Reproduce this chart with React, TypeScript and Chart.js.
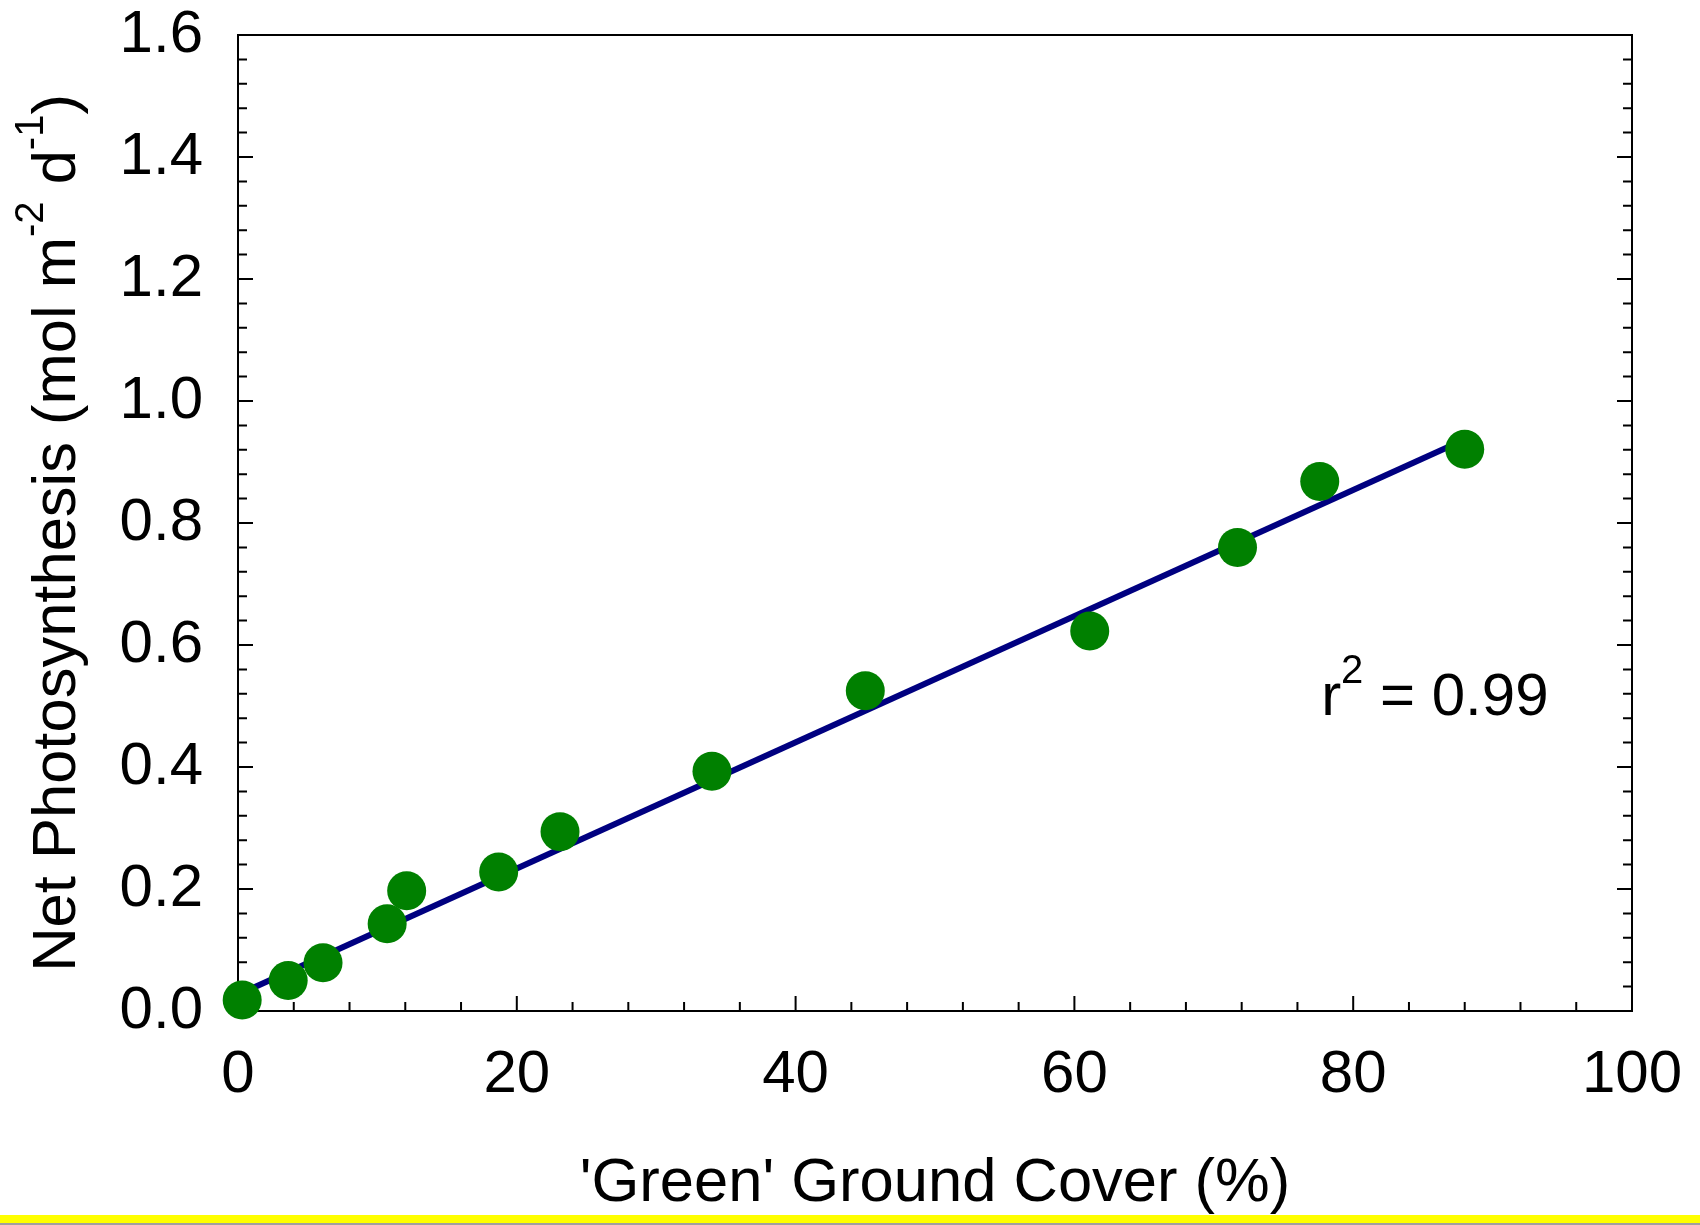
import React, { useEffect, useRef } from "react";
import { Chart, registerables } from "chart.js";

Chart.register(...registerables);

// Data
const coverPct = [0.3, 3.6, 6.1, 10.7, 12.1, 18.7, 23.1, 34.0, 45.0, 61.1, 71.7, 77.6, 88.0];
const netPhoto = [0.018, 0.05, 0.079, 0.143, 0.197, 0.228, 0.294, 0.393, 0.525, 0.623, 0.76, 0.868, 0.921];
const fitX = [0.3, 88.0];
const fitY = [0.03, 0.937];

const xMin = 0;
const xMax = 100;
const xStep = 20;
const xMinorStep = 4;
const yMin = 0;
const yMax = 1.6;
const yStep = 0.2;
const yMinorStep = 0.04;

const xTitle = "'Green' Ground Cover (%)";
const yTitleParts: [string, boolean][] = [
  ["Net Photosynthesis (mol m", false],
  ["-2", true],
  [" d", false],
  ["-1", true],
  [")", false],
];
const r2Parts: [string, boolean][] = [
  ["r", false],
  ["2", true],
  [" = 0.99", false],
];
const r2At = { x: 77.7, y: 0.485 };

const FONT = '"Liberation Sans", Arial, Helvetica, sans-serif';
const MAIN = 60;
const TITLE = 61.5;
const SUP = 40;
const SUP_RAISE = 32;

function drawParts(ctx: CanvasRenderingContext2D, parts: [string, boolean][], x0: number, y0: number, main: number) {
  let x = x0;
  for (const [t, sup] of parts) {
    ctx.font = `${sup ? SUP : main}px ${FONT}`;
    ctx.fillText(t, x, sup ? y0 - SUP_RAISE : y0);
    x += ctx.measureText(t).width;
  }
}
function partsWidth(ctx: CanvasRenderingContext2D, parts: [string, boolean][], main: number) {
  let w = 0;
  for (const [t, sup] of parts) {
    ctx.font = `${sup ? SUP : main}px ${FONT}`;
    w += ctx.measureText(t).width;
  }
  return w;
}

const decorPlugin = {
  id: "decor",
  beforeDraw(chart: any) {
    const ctx = chart.ctx as CanvasRenderingContext2D;
    ctx.save();
    ctx.fillStyle = "#ffffff";
    ctx.fillRect(0, 0, chart.width, chart.height);
    ctx.fillStyle = "#ffff00";
    ctx.fillRect(0, 1215, chart.width, 8);
    ctx.fillStyle = "#a0a0a0";
    ctx.fillRect(0, 1223, chart.width, 2);
    ctx.restore();
  },
  beforeDatasetsDraw(chart: any) {
    const ctx = chart.ctx as CanvasRenderingContext2D;
    const { left, right, top, bottom } = chart.chartArea;
    const xs = chart.scales.x;
    const ys = chart.scales.y;
    ctx.save();
    ctx.strokeStyle = "#000";
    ctx.lineWidth = 2;
    ctx.beginPath();
    ctx.rect(left, top, right - left, bottom - top);
    ctx.stroke();
    ctx.beginPath();
    const nY = Math.round((yMax - yMin) / yMinorStep);
    const perMajY = Math.round(yStep / yMinorStep);
    for (let i = 1; i < nY; i++) {
      const py = ys.getPixelForValue(yMin + i * yMinorStep);
      const len = i % perMajY === 0 ? 15 : 9;
      ctx.moveTo(left, py);
      ctx.lineTo(left + len, py);
      ctx.moveTo(right, py);
      ctx.lineTo(right - len, py);
    }
    const nX = Math.round((xMax - xMin) / xMinorStep);
    const perMajX = Math.round(xStep / xMinorStep);
    for (let i = 1; i < nX; i++) {
      const px = xs.getPixelForValue(xMin + i * xMinorStep);
      const len = i % perMajX === 0 ? 15 : 9;
      ctx.moveTo(px, bottom);
      ctx.lineTo(px, bottom - len);
    }
    ctx.stroke();
    ctx.restore();
  },
  afterDraw(chart: any) {
    const ctx = chart.ctx as CanvasRenderingContext2D;
    const { left, right } = chart.chartArea;
    ctx.save();
    ctx.fillStyle = "#000";
    ctx.textBaseline = "alphabetic";
    ctx.textAlign = "left";
    // x title
    ctx.font = `${TITLE}px ${FONT}`;
    const xw = ctx.measureText(xTitle).width;
    ctx.fillText(xTitle, (left + right) / 2 - xw / 2, 1201);
    // y title
    const yw = partsWidth(ctx, yTitleParts, TITLE);
    ctx.save();
    ctx.translate(75, 533);
    ctx.rotate(-Math.PI / 2);
    drawParts(ctx, yTitleParts, -yw / 2, 0, TITLE);
    ctx.restore();
    // r^2 annotation
    const xs = chart.scales.x;
    const ys = chart.scales.y;
    drawParts(ctx, r2Parts, xs.getPixelForValue(r2At.x), ys.getPixelForValue(r2At.y), MAIN);
    ctx.restore();
  },
};

function zeroPad(s: any) {
  s.paddingTop = 0;
  s.paddingBottom = 0;
  s.paddingLeft = 0;
  s.paddingRight = 0;
}

export default function App() {
  const ref = useRef<HTMLCanvasElement | null>(null);
  useEffect(() => {
    document.body.style.margin = "0";
    const canvas = ref.current!;
    const chart = new Chart(canvas, {
      type: "scatter",
      data: {
        datasets: [
          {
            type: "scatter",
            data: coverPct.map((x, i) => ({ x, y: netPhoto[i] })),
            backgroundColor: "#008000",
            borderColor: "#008000",
            borderWidth: 0,
            pointRadius: 19.5,
            pointHoverRadius: 19.5,
            clip: false,
          } as any,
          {
            type: "line",
            data: fitX.map((x, i) => ({ x, y: fitY[i] })),
            borderColor: "#000080",
            borderWidth: 6,
            pointRadius: 0,
            fill: false,
            tension: 0,
            clip: false,
          } as any,
        ],
      },
      options: {
        responsive: false,
        animation: false,
        devicePixelRatio: 1,
        layout: { padding: { top: 35, right: 68, left: 0, bottom: 0 } },
        plugins: { legend: { display: false }, tooltip: { enabled: false }, title: { display: false } },
        events: [],
        scales: {
          x: {
            type: "linear",
            position: "bottom",
            min: xMin,
            max: xMax,
            grid: { display: false, drawTicks: false },
            border: { display: false },
            ticks: {
              stepSize: xStep,
              color: "#000",
              font: { family: FONT, size: MAIN },
              padding: 28,
              maxRotation: 0,
              autoSkip: false,
            },
            afterFit: (s: any) => {
              s.height = 214;
              zeroPad(s);
            },
          },
          y: {
            type: "linear",
            position: "left",
            min: yMin,
            max: yMax,
            grid: { display: false, drawTicks: false },
            border: { display: false },
            ticks: {
              stepSize: yStep,
              color: "#000",
              font: { family: FONT, size: MAIN },
              padding: 35,
              autoSkip: false,
              callback: (v: any) => Number(v).toFixed(1),
            },
            afterFit: (s: any) => {
              s.width = 238;
              zeroPad(s);
            },
          },
        },
      },
      plugins: [decorPlugin],
    });
    return () => chart.destroy();
  }, []);
  return (
    <div style={{ width: 1700, height: 1225 }}>
      <canvas ref={ref} width={1700} height={1225} style={{ display: "block", width: 1700, height: 1225 }} />
    </div>
  );
}
